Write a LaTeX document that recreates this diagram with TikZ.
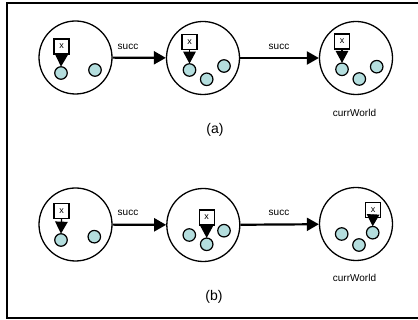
\documentclass[tikz,border=0pt]{standalone}
\usepackage{fontspec}
\setmainfont{Liberation Sans}
\usetikzlibrary{arrows.meta}
\definecolor{ballfill}{RGB}{180,222,222}
\tikzset{
  world/.style={circle,draw=black,line width=1.3pt,minimum size=73pt,inner sep=0pt},
  ball/.style={circle,draw=black,fill=ballfill,line width=1.2pt,minimum size=12.5pt,inner sep=0pt},
  xbox/.style={draw=black,fill=white,line width=1.3pt,minimum size=15pt,inner sep=0pt,font=\fontsize{9}{10}\selectfont},
  ptr/.style={line width=1.3pt,-{Triangle[length=12pt,width=12.5pt]},shorten >=-0.5pt},
  succarrow/.style={line width=2.2pt,-{Triangle[length=12pt,width=13pt]}},
  lbl/.style={font=\fontsize{10}{12}\selectfont,inner sep=0pt},
  captext/.style={font=\fontsize{14}{16}\selectfont,inner sep=0pt}
}
\begin{document}
\begin{tikzpicture}[x=1pt,y=-1pt]
\useasboundingbox (0,0) rectangle (418,320);
\draw[line width=2.2pt] (422,3) -- (7,3) -- (7,318) -- (422,318);
% ---------- panel (a)
\node[world] (wa1) at (75.5,57.5) {};
\node[world] (wa2) at (203,58) {};
\node[world] (wa3) at (356,58) {};
\node[ball] (a1p) at (61,73) {};
\node[ball] (a1q) at (95,70) {};
\node[xbox] (a1x) at (61.5,46.5) {x};
\draw[ptr] (a1x.south) -- (a1p.north);
\node[ball] (a2p) at (189.5,70) {};
\node[ball] (a2q) at (206.7,79.3) {};
\node[ball] (a2r) at (224,66) {};
\node[xbox] (a2x) at (189.5,42) {x};
\draw[ptr] (a2x.south) -- (a2p.north);
\node[ball] (a3p) at (342,69.3) {};
\node[ball] (a3q) at (359.3,79) {};
\node[ball] (a3r) at (376.7,66.7) {};
\node[xbox] (a3x) at (342,41.5) {x};
\draw[ptr] (a3x.south) -- (a3p.north);
\draw[succarrow] (wa1) -- (wa2);
\draw[succarrow] (wa2) -- (wa3);
\node[lbl] (sa1) at (128,47) {succ};
\node[lbl] (sa2) at (279,47) {succ};
\node[lbl] (cwa) at (354.5,112.5) {currWorld};
\node[captext] (capa) at (215,130) {(a)};
% ---------- panel (b)
\node[world] (wb1) at (75.5,224.5) {};
\node[world] (wb2) at (203.3,225) {};
\node[world] (wb3) at (356,224) {};
\node[ball] (b1p) at (61,240) {};
\node[ball] (b1q) at (94.3,236.7) {};
\node[xbox] (b1x) at (61.5,211) {x};
\draw[ptr] (b1x.south) -- (b1p.north);
\node[ball] (b2q) at (189.3,235) {};
\node[ball] (b2p) at (206.7,244.3) {};
\node[ball] (b2r) at (224,230.7) {};
\node[xbox] (b2x) at (206.7,217.5) {x};
\draw[ptr] (b2x.south) -- (b2p.north);
\node[ball] (b3q) at (341.7,234) {};
\node[ball] (b3r) at (359,245) {};
\node[ball] (b3p) at (372.7,232.7) {};
\node[xbox] (b3x) at (373,209.7) {x};
\draw[ptr] (b3x.south) -- (b3p.north);
\draw[succarrow] (wb1) -- (wb2);
\draw[succarrow] (wb2) -- (wb3);
\node[lbl] (sb1) at (128,212.5) {succ};
\node[lbl] (sb2) at (279,213) {succ};
\node[lbl] (cwb) at (354.5,278.3) {currWorld};
\node[captext] (capb) at (214,296.7) {(b)};
\end{tikzpicture}
\end{document}
